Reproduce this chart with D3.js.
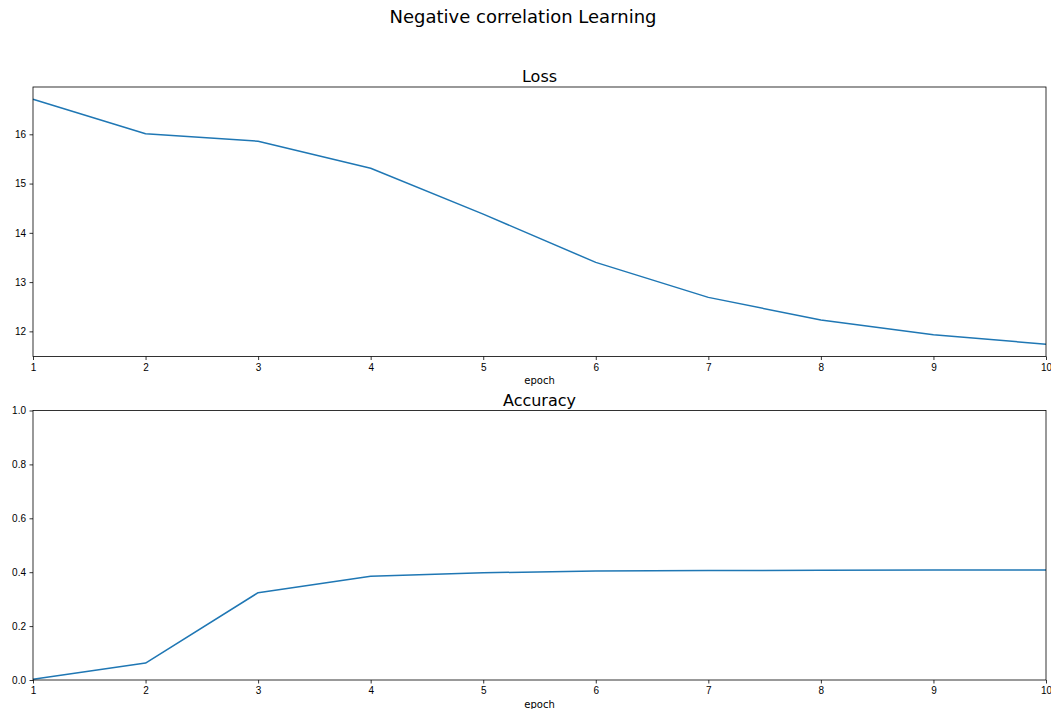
<!DOCTYPE html>
<html>
<head>
<meta charset="utf-8">
<script src="https://cdn.jsdelivr.net/npm/d3@7"></script>
<style>
  body { margin: 0; background: #fff; }
  svg { display: block; font-family: "DejaVu Sans", sans-serif; }
  .tick text { font-size: 10px; fill: #000; }
  .tick line { stroke: #000; stroke-width: 0.8; }
  .domain { display: none; }
</style>
</head>
<body>
<div id="chart"></div>
<script>
'use strict';

var epochs = [1, 2, 3, 4, 5, 6, 7, 8, 9, 10];
var lossValues = [16.71, 16.01, 15.86, 15.31, 14.38, 13.40, 12.69, 12.23, 11.93, 11.74];
var accuracyValues = [0.003, 0.063, 0.324, 0.385, 0.398, 0.404, 0.406, 0.407, 0.408, 0.408];
var lossTicks = [12, 13, 14, 15, 16];
var accuracyTicks = [0, 0.2, 0.4, 0.6, 0.8, 1.0];

var width = 1051, height = 709;
var lineColor = '#1f77b4';

var svg = d3.select('#chart').append('svg')
    .attr('width', width)
    .attr('height', height);

svg.append('text')
    .attr('x', 523)
    .attr('y', 23)
    .attr('text-anchor', 'middle')
    .style('font-size', '18px')
    .text('Negative correlation Learning');

function drawPanel(opts) {
    var x = d3.scaleLinear().domain([1, 10]).range([33, 1046]);
    var y = d3.scaleLinear().domain(opts.yDomain).range([opts.bottom, opts.top]);
    var g = svg.append('g');

    g.append('g')
        .attr('transform', 'translate(0,' + opts.bottom + ')')
        .call(d3.axisBottom(x).tickValues(epochs).tickFormat(d3.format('d')).tickSizeOuter(0).tickSize(3.5).tickPadding(3.5));

    g.append('g')
        .attr('transform', 'translate(33,0)')
        .call(d3.axisLeft(y).tickValues(opts.ticks).tickFormat(opts.format).tickSizeOuter(0).tickSize(3.5).tickPadding(3.5));

    var line = d3.line()
        .x(function(d, i) { return x(epochs[i]); })
        .y(function(d) { return y(d); });

    g.append('path')
        .datum(opts.values)
        .attr('d', line)
        .attr('fill', 'none')
        .attr('stroke', lineColor)
        .attr('stroke-width', 1.5)
        .attr('stroke-linejoin', 'round');

    g.append('rect')
        .attr('x', 33)
        .attr('y', opts.top)
        .attr('width', 1046 - 33)
        .attr('height', opts.bottom - opts.top)
        .attr('fill', 'none')
        .attr('stroke', '#000')
        .attr('stroke-width', 0.8);

    g.append('text')
        .attr('x', (33 + 1046) / 2)
        .attr('y', opts.top - 5)
        .attr('text-anchor', 'middle')
        .style('font-size', '16px')
        .text(opts.title);

    g.append('text')
        .attr('x', (33 + 1046) / 2)
        .attr('y', opts.bottom + 27.5)
        .attr('text-anchor', 'middle')
        .style('font-size', '10px')
        .text('epoch');
}

drawPanel({
    title: 'Loss',
    values: lossValues,
    ticks: lossTicks,
    format: d3.format('d'),
    yDomain: [11.49, 16.96],
    top: 87,
    bottom: 356.5
});

drawPanel({
    title: 'Accuracy',
    values: accuracyValues,
    ticks: accuracyTicks,
    format: d3.format('.1f'),
    yDomain: [0, 1],
    top: 410.5,
    bottom: 680
});
</script>
</body>
</html>
